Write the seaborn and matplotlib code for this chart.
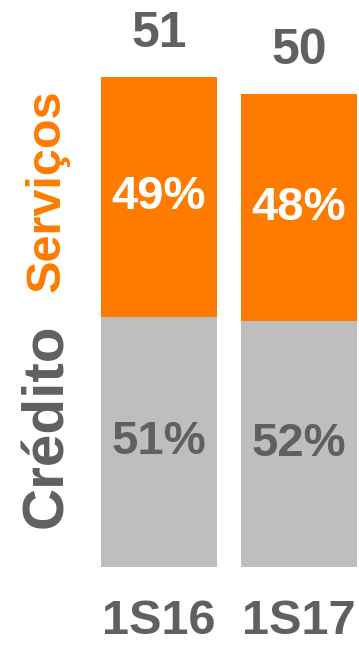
import matplotlib
matplotlib.use("Agg")
import matplotlib.pyplot as plt
import seaborn as sns
import pandas as pd

categories = ["1S16", "1S17"]
totals = [51.4, 49.6]          # bar heights
total_labels = ["51", "50"]
credito_share = [51, 52]       # %
servicos_share = [49, 48]      # %

ORANGE = "#FF7B00"
GREY = "#BEBEC0"
DARK = "#5F6062"

sns.set_theme(style="white")
plt.rcParams['font.family'] = ['Liberation Sans', 'DejaVu Sans']

credito_vals = [t * s / 100 for t, s in zip(totals, credito_share)]
df = pd.DataFrame({"cat": categories, "total": totals, "credito": credito_vals})

W, H = 359, 646
fig = plt.figure(figsize=(W / 100, H / 100), dpi=100)
bottom_px = 566.7
ax = fig.add_axes([0, 1 - bottom_px / H, 1, bottom_px / H])

bw = 116 / 140
sns.barplot(data=df, x="cat", y="total", color=ORANGE, width=bw, ax=ax,
            saturation=1, linewidth=0)
sns.barplot(data=df, x="cat", y="credito", color=GREY, width=bw, ax=ax,
            saturation=1, linewidth=0)

ax.set_xlim((0 - 159) / 140, (359 - 159) / 140)
k = (bottom_px - 77.3) / totals[0]
ax.set_ylim(0, bottom_px / k)

for i, (t, c, lab, cs, ss) in enumerate(zip(totals, credito_vals, total_labels,
                                            credito_share, servicos_share)):
    ax.annotate(lab, (i, t), xytext=(0, 14.5), textcoords="offset points",
                ha="center", va="bottom", fontsize=36, fontweight="bold", color=DARK)
    ax.text(i, (t + c) / 2, f"{ss}%", ha="center", va="center",
            fontsize=34, fontweight="bold", color="white")
    ax.text(i, c / 2, f"{cs}%", ha="center", va="center",
            fontsize=34, fontweight="bold", color=DARK)

ax.set_xlabel("")
ax.set_ylabel("")
ax.set_yticks([])
ax.set_xticks(range(len(categories)))
ax.set_xticklabels(categories, fontsize=35, fontweight="bold", color=DARK)
ax.tick_params(axis="x", length=0, pad=23.5)
for s in ax.spines.values():
    s.set_visible(False)

fig.text(47 / W, 1 - 191 / H, "Serviços", rotation=90, ha="center", va="center",
         fontsize=35, fontweight="bold", color=ORANGE)
fig.text(47 / W, 1 - 426 / H, "Crédito", rotation=90, ha="center", va="center",
         fontsize=42, fontweight="bold", color=DARK)

fig.savefig("out.png", dpi=100)
